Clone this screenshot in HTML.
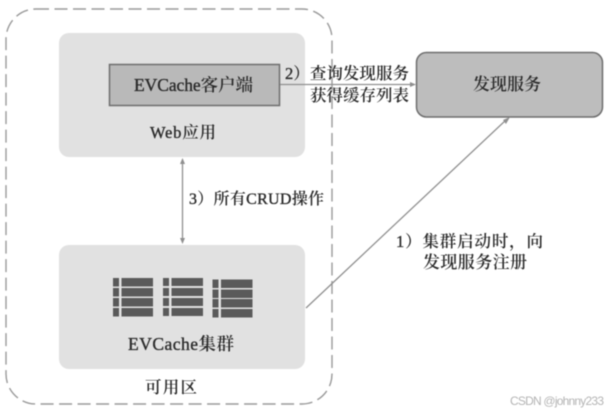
<!DOCTYPE html>
<html>
<head>
<meta charset="utf-8">
<style>
html,body{margin:0;padding:0;background:#fff}
svg{display:block;filter:blur(.45px)}
text{font-family:"Liberation Serif","Noto Serif CJK SC",serif;fill:#2a2a2a;font-weight:600}
tspan{font-weight:400;stroke:#2a2a2a;stroke-width:.35px}
</style>
</head>
<body>
<svg width="611" height="412" viewBox="0 0 611 412" xmlns="http://www.w3.org/2000/svg">
<rect width="611" height="412" fill="#fff"/>
<rect x="6" y="9" width="326" height="395" rx="30" fill="none" stroke="#9a9a9a" stroke-width="1.400" stroke-dasharray="13 5.500"/>
<rect x="59" y="33" width="246" height="124" rx="10" fill="#e1e1e1"/>
<rect x="59" y="245" width="246" height="124" rx="10" fill="#e1e1e1"/>
<rect x="109.500" y="64.500" width="170" height="41" fill="#b9b9b9" stroke="#6e6e6e" stroke-width="1.500"/>
<rect x="416.500" y="52.500" width="186" height="64.500" rx="10" fill="#bdbdbd" stroke="#6e6e6e" stroke-width="1.500"/>

<line x1="280" y1="84.500" x2="412" y2="84.500" stroke="#8f8f8f" stroke-width="1.300"/>
<polygon points="416,84.500 410,82 410,87" fill="#8f8f8f"/>
<line x1="182.500" y1="163" x2="182.500" y2="239" stroke="#8f8f8f" stroke-width="1.300"/>
<polygon points="182.500,158 180,164 185,164" fill="#8f8f8f"/>
<polygon points="182.500,244 180,238 185,238" fill="#8f8f8f"/>
<line x1="306" y1="308" x2="506" y2="120" stroke="#8f8f8f" stroke-width="1.300"/>
<polygon points="510,117 503,120 506,124" fill="#8f8f8f"/>

<g fill="#5a5a5a">
<rect x="113" y="278" width="6" height="8.500"/><rect x="121.500" y="278" width="31.500" height="8.500"/>
<rect x="113" y="288" width="6" height="8.500"/><rect x="121.500" y="288" width="31.500" height="8.500"/>
<rect x="113" y="298" width="6" height="8.500"/><rect x="121.500" y="298" width="31.500" height="8.500"/>
<rect x="113" y="308" width="6" height="8.500"/><rect x="121.500" y="308" width="31.500" height="8.500"/>
<rect x="163" y="278" width="6" height="8"/><rect x="171.500" y="278" width="31.500" height="8"/>
<rect x="163" y="288" width="6" height="8"/><rect x="171.500" y="288" width="31.500" height="8"/>
<rect x="163" y="298" width="6" height="8"/><rect x="171.500" y="298" width="31.500" height="8"/>
<rect x="163" y="308" width="6" height="8"/><rect x="171.500" y="308" width="31.500" height="8"/>
<rect x="212.500" y="279.500" width="6" height="8.500"/><rect x="221" y="279.500" width="31.500" height="8.500"/>
<rect x="212.500" y="289.500" width="6" height="8.500"/><rect x="221" y="289.500" width="31.500" height="8.500"/>
<rect x="212.500" y="299" width="6" height="8.500"/><rect x="221" y="299" width="31.500" height="8.500"/>
<rect x="212.500" y="309" width="6" height="8.500"/><rect x="221" y="309" width="31.500" height="8.500"/>
</g>

<text x="134" y="91" font-size="17.500" textLength="119" lengthAdjust="spacing"><tspan>EVCache</tspan>客户端</text>
<text x="150" y="138" font-size="16.500" textLength="66" lengthAdjust="spacing"><tspan>Web</tspan>应用</text>
<text x="128" y="350" font-size="17.500" textLength="106" lengthAdjust="spacing"><tspan>EVCache</tspan>集群</text>
<text x="145" y="393" font-size="16.500" textLength="52" lengthAdjust="spacing">可用区</text>
<text x="473" y="90" font-size="17" textLength="68" lengthAdjust="spacing">发现服务</text>
<text x="285" y="79" font-size="16.500" textLength="124" lengthAdjust="spacing"><tspan>2</tspan>）查询发现服务</text>
<text x="310" y="101" font-size="16.500" textLength="99" lengthAdjust="spacing">获得缓存列表</text>
<text x="189" y="204" font-size="16" textLength="135" lengthAdjust="spacing"><tspan>3</tspan>）所有<tspan>CRUD</tspan>操作</text>
<text x="396" y="247" font-size="16.500" textLength="147" lengthAdjust="spacing"><tspan>1</tspan>）集群启动时，向</text>
<text x="423" y="268" font-size="17" textLength="104" lengthAdjust="spacing">发现服务注册</text>
<text x="510" y="405" font-size="12" textLength="94" lengthAdjust="spacing" style="font-family:'Liberation Sans',sans-serif;fill:#b4b4b4;font-weight:400">CSDN @johnny233</text>
</svg>
</body>
</html>
